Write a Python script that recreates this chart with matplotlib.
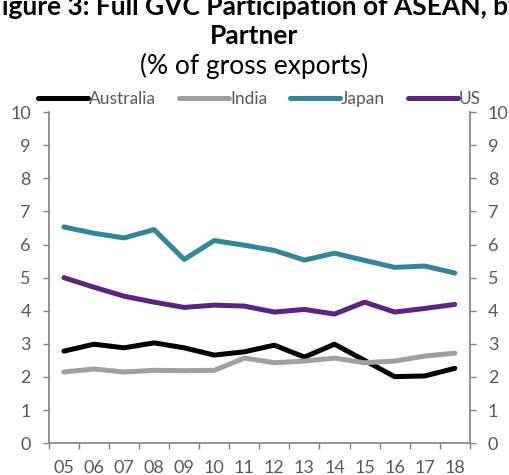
import numpy as np
import matplotlib.pyplot as plt

years = ['05', '06', '07', '08', '09', '10', '11', '12', '13', '14', '15', '16', '17', '18']
australia = [2.78, 2.99, 2.88, 3.03, 2.88, 2.66, 2.76, 2.96, 2.60, 2.99, 2.50, 2.01, 2.03, 2.26]
india = [2.15, 2.24, 2.15, 2.20, 2.19, 2.20, 2.57, 2.43, 2.48, 2.57, 2.43, 2.48, 2.63, 2.72]
japan = [6.53, 6.34, 6.20, 6.45, 5.55, 6.12, 5.98, 5.82, 5.53, 5.74, 5.52, 5.31, 5.35, 5.14]
us = [5.00, 4.71, 4.44, 4.26, 4.10, 4.17, 4.14, 3.96, 4.04, 3.90, 4.26, 3.96, 4.07, 4.19]

series = [('Australia', australia, '#000000'),
          ('India', india, '#A0A0A0'),
          ('Japan', japan, '#31869B'),
          ('US', us, '#5B2482')]

plt.rcParams['font.family'] = ['Lato', 'DejaVu Sans']
grey = '#595959'
spine = '#808080'

fig = plt.figure(figsize=(5.09, 4.75), dpi=100)
ax = fig.add_axes([0.096, 0.067, 0.827, 0.697])
x = np.arange(len(years))
for name, vals, col in series:
    ax.plot(x, vals, color=col, lw=3.6, label=name, solid_capstyle='round')

ax.set_xlim(-0.5, len(years) - 0.5)
ax.set_ylim(0, 10)
ax.set_yticks(range(0, 11))
ax.set_xticks(x)
ax.set_xticklabels(years)
ax.set_xticks(np.arange(-0.5, len(years)), minor=True)
ax.tick_params(axis='x', which='major', length=0, pad=12, labelsize=13, labelcolor=grey)
ax.tick_params(axis='x', which='minor', length=4, width=1, color=spine, direction='out')
ax.tick_params(axis='y', length=4, width=1, color=spine, labelsize=13, labelcolor=grey, pad=9)
for s in ['top', 'right']:
    ax.spines[s].set_visible(False)
for s in ['left', 'bottom']:
    ax.spines[s].set_color(spine)
    ax.spines[s].set_linewidth(1.2)

ax2 = ax.twinx()
ax2.set_ylim(0, 10)
ax2.set_yticks(range(0, 11))
ax2.tick_params(axis='y', length=4, width=1, color=spine, labelsize=13, labelcolor=grey, pad=9)
for s in ['top', 'left', 'bottom']:
    ax2.spines[s].set_visible(False)
ax2.spines['right'].set_color(spine)
ax2.spines['right'].set_linewidth(1.2)

ax.legend(loc='lower center', bbox_to_anchor=(0.5, 0.995), ncol=4, frameon=False,
          handlelength=2.9, handletextpad=0.05, columnspacing=1.3, fontsize=12.5,
          labelcolor=grey, borderaxespad=0)

# title is wider than the figure and cut at the top, as in the source
fig.text(0.5, 0.986, 'Figure 3: Full GVC Participation of ASEAN, by', ha='center', va='center',
         fontsize=19, fontweight='bold')
fig.text(0.5, 0.925, 'Partner', ha='center', va='center', fontsize=19, fontweight='bold')
fig.text(0.5, 0.862, '(% of gross exports)', ha='center', va='center', fontsize=19)

fig.savefig('out.png', dpi=100)
